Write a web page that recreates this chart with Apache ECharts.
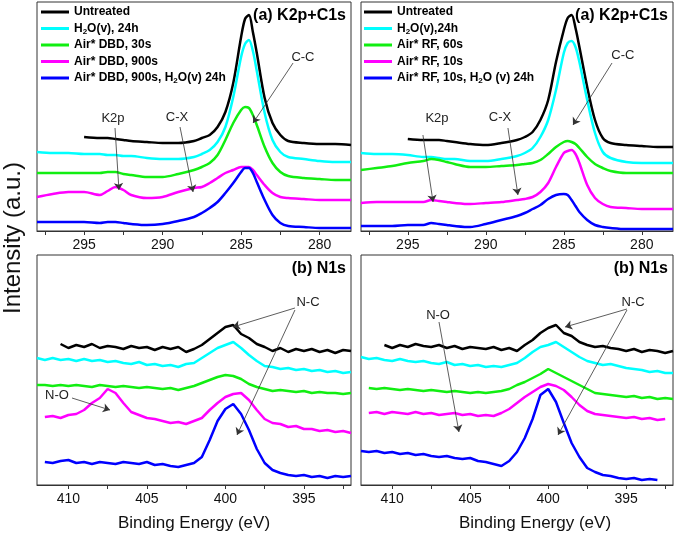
<!DOCTYPE html>
<html><head><meta charset="utf-8">
<script src="https://cdn.jsdelivr.net/npm/echarts@6/dist/echarts.min.js"></script>
<style>html,body{margin:0;padding:0;background:#fff}#c{width:675px;height:533px}</style>
</head><body><div id="c"></div>
<script>
const FONT = '"Liberation Sans", Arial, Helvetica, sans-serif';

// ---------- energy grids (eV) ----------
const c1sEnergy = [298,297,296,295,294,293.5,293,292.5,292,291,290,289,288,287.5,287,286.5,286,285.5,285,284.75,284.5,284.25,284,283.5,283,282.5,282,281,280,279,278];
const n1sEnergy = [412,411.5,411,410.5,410,409.5,409,408.5,408,407.5,407,406.5,406,405.5,405,404.5,404,403.5,403,402.5,402,401.5,401,400.5,400,399.5,399,398.5,398,397.5,397,396.5,396,395.5,395,394.5,394,393.5,393,392.5,392];

// ---------- series names ----------
const namesLeft  = ['Untreated','H2O(v), 24h','Air* DBD, 30s','Air* DBD, 900s','Air* DBD, 900s, H2O(v) 24h'];
const namesRight = ['Untreated','H2O(v),24h','Air* RF, 60s','Air* RF, 10s','Air* RF, 10s, H2O (v) 24h'];
const colors = ['#000000','#00ffff','#11ee11','#ff00ff','#0000ff'];

// ---------- (a) K2p+C1s, DBD (offset intensity, a.u.) ----------
const c1sL_untreated = [null,null,null,94,93,93,92,91,90,89,88,88,90,93,96,104,119,148,194,212,216,199,178,133,108,96,90,88,87,87,86];
const c1sL_h2o       = [79,78,78,77,77,76,76,75,75,73,72,72,74,77,81,89,104,134,174,187,191,180,160,118,91,79,74,72,70,69,69];
const c1sL_dbd30     = [58,58,58,58,58,59,59,57,56,54,54,57,61,64,68,76,91,108,121,124,123,116,106,84,68,59,55,53,52,51,51];
const c1sL_dbd900    = [34,37,39,39,36,40,44,41,36,33,34,39,43,44,48,53,58,61,64,64,64,61,56,46,38,34,33,32,31,31,31];
const c1sL_dbd900h2o = [9,9,9,9,8,9,9,8,7,6,7,10,14,18,23,29,38,48,59,63,63,58,49,31,16,8,5,4,3,3,3];

// ---------- (a) K2p+C1s, RF ----------
const c1sR_untreated = [null,null,null,92,91,91,91,90,89,87,86,88,91,94,99,111,131,169,201,213,216,203,184,144,111,93,88,86,85,84,84];
const c1sR_h2o       = [78,77,77,76,74,74,73,72,72,70,70,72,75,78,83,94,111,141,178,188,190,184,169,131,98,79,73,69,68,68,68];
const c1sR_rf60      = [61,63,65,68,70,72,71,69,67,64,64,65,66,67,68,71,77,84,89,90,89,87,83,74,67,63,60,58,58,58,58];
const c1sR_rf10      = [28,29,29,29,29,31,30,29,28,27,28,29,31,32,34,39,48,64,78,80,81,77,68,46,33,27,24,23,22,22,22];
const c1sR_rf10h2o   = [5,5,5,6,6,8,7,6,5,4,7,11,15,18,22,26,32,36,37,36,31,25,19,11,6,4,3,2,2,2,2];

// ---------- (b) N1s, DBD ----------
const n1sL_untreated = [null,null,null,141,137,140,138,141,137,139,138,136,139,137,138,135,138,136,138,133,136,140,146,152,158,160,151,147,141,138,134,137,133,136,134,136,133,135,132,135,134];
const n1sL_h2o       = [127,125,127,125,126,124,126,124,125,123,124,122,121,123,120,121,119,120,118,121,122,127,132,137,140,143,137,130,124,119,118,116,117,115,116,114,115,113,114,112,113];
const n1sL_dbd30     = [100,100,99,100,99,100,99,98,100,99,98,99,98,97,98,97,96,97,95,97,99,102,105,108,110,109,106,101,98,96,94,95,94,93,94,92,93,92,92,91,92];
const n1sL_dbd900    = [null,68,69,67,70,71,75,82,87,96,92,82,73,70,67,66,64,62,63,61,64,67,75,82,88,91,92,85,75,66,62,61,58,59,56,56,54,55,53,54,52];
const n1sL_dbd900h2o = [null,23,22,24,25,22,23,21,23,22,21,23,22,21,23,20,21,19,18,20,22,28,45,64,76,81,71,55,36,22,15,12,10,9,10,8,9,7,9,8,9];

// ---------- (b) N1s, RF ----------
const n1sR_untreated = [null,null,null,140,137,140,138,141,139,138,140,137,139,136,138,137,136,138,135,137,134,140,145,152,157,160,152,149,143,140,138,139,137,136,134,136,133,135,134,132,134];
const n1sR_h2o       = [128,126,127,125,124,126,124,123,124,122,121,123,120,121,119,120,118,119,118,120,122,127,133,138,140,143,138,133,128,124,122,120,121,119,117,116,115,113,114,112,112];
const n1sR_rf60      = [null,97,96,97,96,95,96,95,94,95,94,93,94,93,92,93,92,93,94,96,100,103,107,111,116,112,108,104,100,96,92,91,90,89,88,89,87,88,86,87,86];
const n1sR_rf10      = [null,72,73,71,73,72,71,73,71,72,70,71,72,70,71,69,70,69,72,76,82,88,93,98,101,99,95,88,80,74,71,70,69,68,67,68,66,67,65,66,null];
const n1sR_rf10h2o   = [34,33,34,32,33,31,32,30,31,29,28,29,27,26,27,24,23,21,19,24,33,47,66,90,96,83,62,42,28,17,13,10,9,7,6,7,5,6,5,null,null];

// ---------- axis ticks ----------
const c1sTickLabels = [280,285,290,295];
const c1sTicks = [280,282.5,285,287.5,290,292.5,295,297.5];
const n1sTickLabels = [395,400,405,410];
const n1sTicks = [392.5,395,397.5,400,402.5,405,407.5,410];

// ---------- annotations (data coordinates) ----------
const annoText = [
  [0,293.16,113,'K2p'],[0,289.08,114,'C-X'],[0,281.06,174,'C-C'],
  [1,293.13,113,'K2p'],[1,289.09,114,'C-X'],[1,281.21,176,'C-C'],
  [2,394.74,183,'N-C'],[2,410.73,90,'N-O'],
  [3,394.56,183,'N-C'],[3,407.06,170,'N-O']
];
const annoArrows = [
  [0,293.03,103,292.78,41],[0,288.89,104,288.06,39],[0,281.69,168,284.24,108],
  [1,294.03,96,293.38,29],[1,288.58,103,287.94,36],[1,281.91,168,284.41,106],
  [2,395.57,177,399.52,158],[2,395.57,175,399.26,50],[2,409.77,87,407.35,75],
  [3,394.95,176,398.92,158],[3,394.95,175,399.37,50],[3,407.0,163,405.72,53]
];

const panels = [
  {energy:c1sEnergy, names:namesLeft,  curves:[c1sL_untreated,c1sL_h2o,c1sL_dbd30,c1sL_dbd900,c1sL_dbd900h2o], smooth:0.3},
  {energy:c1sEnergy, names:namesRight, curves:[c1sR_untreated,c1sR_h2o,c1sR_rf60,c1sR_rf10,c1sR_rf10h2o], smooth:0.3},
  {energy:n1sEnergy, names:namesLeft,  curves:[n1sL_untreated,n1sL_h2o,n1sL_dbd30,n1sL_dbd900,n1sL_dbd900h2o], smooth:false},
  {energy:n1sEnergy, names:namesRight, curves:[n1sR_untreated,n1sR_h2o,n1sR_rf60,n1sR_rf10,n1sR_rf10h2o], smooth:false}
];

const grids = [
  {left:37, top:2, width:314, height:229},
  {left:361, top:2, width:312, height:229},
  {left:37, top:255, width:314, height:230},
  {left:361, top:255, width:312, height:230}
].map(g => Object.assign({show:true, borderColor:'#333', borderWidth:1, backgroundColor:'transparent', containLabel:false}, g));

const xAxes = grids.map((g,i) => {
  const top = i < 2;
  return {
    type:'value', gridIndex:i, inverse:true,
    min: top ? 278 : 392, max: top ? 298 : 412,
    axisLine:{show:true, lineStyle:{color:'#333', width:1}},
    axisTick:{show:true, inside:false, length:4, customValues: top ? c1sTicks : n1sTicks, lineStyle:{color:'#333', width:1}},
    axisLabel:{customValues: top ? c1sTickLabels : n1sTickLabels, fontSize:14, margin:7, color:'#111', fontFamily:FONT},
    splitLine:{show:false}
  };
});
const yAxes = grids.map((g,i) => ({type:'value', gridIndex:i, min:0, max: i<2 ? 229 : 230, show:false}));

const series = [];
panels.forEach((p, gi) => {
  p.curves.forEach((vals, k) => {
    const s = {
      type:'line', name:p.names[k], xAxisIndex:gi, yAxisIndex:gi,
      data: p.energy.map((e,i) => [e, vals[i]]),
      showSymbol:false, symbol:'none', smooth:p.smooth,
      lineStyle:{color:colors[k], width:2.5}, itemStyle:{color:colors[k]},
      emphasis:{disabled:true}, silent:true
    };
    if (k === 0) {
      s.markLine = {
        silent:true, symbol:['none','arrow'], symbolSize:7, animation:false,
        lineStyle:{color:'#333', width:0.8, type:'solid'}, label:{show:false}, emphasis:{disabled:true},
        data: annoArrows.filter(a => a[0] === gi).map(a => [{coord:[a[1],a[2]]},{coord:[a[3],a[4]]}])
      };
    }
    series.push(s);
  });
});

const legendFmt = name => name.split('H2O').join('H{s|2}O');
const legendBase = {
  orient:'vertical', top:5, padding:0, itemWidth:28, itemHeight:3, itemGap:2.5, icon:'rect', selectedMode:false,
  formatter: legendFmt,
  textStyle:{fontFamily:FONT, fontSize:12, fontWeight:'bold', color:'#000', lineHeight:14,
    rich:{s:{fontFamily:FONT, fontSize:8, fontWeight:'bold', color:'#000', verticalAlign:'bottom', lineHeight:14}}}
};

const chart = echarts.init(document.getElementById('c'), null, {renderer:'canvas'});
chart.setOption({
  animation:false,
  backgroundColor:'#fff',
  grid: grids, xAxis: xAxes, yAxis: yAxes, series: series,
  legend: [
    Object.assign({}, legendBase, {left:41, data:namesLeft}),
    Object.assign({}, legendBase, {left:364, data:namesRight})
  ]
});

// graphic texts: titles and annotations positioned through the chart's scales
const g = [];
const titleFont = 'bold 16px ' + FONT;
[[0,'(a) K2p+C1s'],[1,'(a) K2p+C1s'],[2,'(b) N1s'],[3,'(b) N1s']].forEach(([gi, t]) => {
  const gr = grids[gi];
  g.push({type:'text', x: gr.left + gr.width - 5, y: gr.top + 14, silent:true,
    style:{text:t, font:titleFont, fill:'#000', align:'right', verticalAlign:'middle'}});
});
annoText.forEach(([gi, e, v, t]) => {
  const p = chart.convertToPixel({gridIndex:gi}, [e, v]);
  g.push({type:'text', x:p[0], y:p[1], silent:true,
    style:{text:t, font:'13px ' + FONT, fill:'#222', align:'center', verticalAlign:'middle'}});
});
// axis titles
g.push({type:'text', x:13, y:238, rotation:Math.PI/2, silent:true,
  style:{text:'Intensity (a.u.)', font:'24px ' + FONT, fill:'#111', align:'center', verticalAlign:'middle'}});
g.push({type:'text', x:194, y:523, silent:true,
  style:{text:'Binding Energy (eV)', font:'17px ' + FONT, fill:'#111', align:'center', verticalAlign:'middle'}});
g.push({type:'text', x:535, y:523, silent:true,
  style:{text:'Binding Energy (eV)', font:'17px ' + FONT, fill:'#111', align:'center', verticalAlign:'middle'}});
chart.setOption({graphic: g});
</script>
</body></html>
